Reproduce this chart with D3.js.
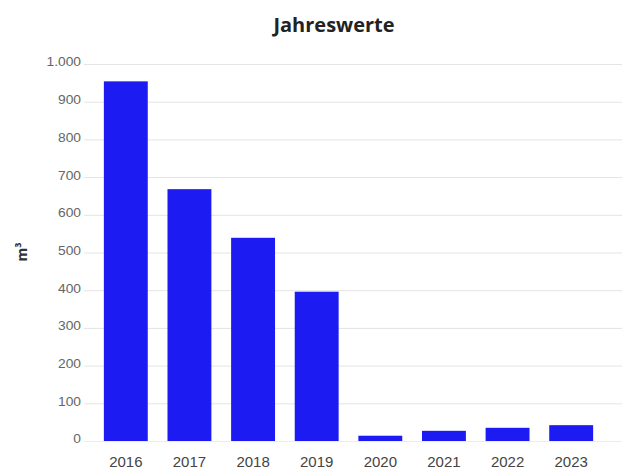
<!DOCTYPE html>
<html><head><meta charset="utf-8">
<script src="https://cdn.jsdelivr.net/npm/d3@7"></script>
<style>body{margin:0;background:#fff}svg{display:block}</style>
</head><body>
<script>
const years = ["2016","2017","2018","2019","2020","2021","2022","2023"];
const values = [954, 668, 539, 396, 14, 27, 35, 42];
const yTicks = [0,100,200,300,400,500,600,700,800,900,1000];

const W = 625, H = 470;
const svg = d3.select("body").append("svg").attr("width", W).attr("height", H);

const x = d3.scaleBand().domain(years).range([94, 603]).paddingInner(0.31).paddingOuter(0.155);
const y = d3.scaleLinear().domain([0, 1000]).range([441, 64]);
const fmt = v => d3.format(",")(v).replace(/,/g, ".");

// gridlines
svg.append("g").selectAll("line").data(yTicks.filter(d => d > 0)).join("line")
  .attr("x1", 84).attr("x2", 622)
  .attr("y1", d => y(d) + 0.5).attr("y2", d => y(d) + 0.5)
  .attr("stroke", "#e4e4e4").attr("stroke-width", 1);

// y axis
const yAxis = svg.append("g").attr("transform", "translate(81,0)")
  .call(d3.axisLeft(y).tickValues(yTicks).tickFormat(fmt).tickSize(0).tickPadding(0));
yAxis.select(".domain").remove();
yAxis.selectAll("text").attr("fill", "#666").attr("dy", "0.2em")
  .style("font-family", "Liberation Sans, Arial, sans-serif").style("font-size", "12px")
  .attr("transform", "scale(1.15,1)");
yAxis.selectAll(".tick").attr("transform", d => `translate(0,${y(d)})`);

// bars
svg.append("g").selectAll("rect").data(years).join("rect")
  .attr("x", d => x(d)).attr("width", x.bandwidth())
  .attr("y", (d, i) => y(values[i])).attr("height", (d, i) => y(0) - y(values[i]))
  .attr("fill", "#1c1cf2");

// baseline
svg.append("line").attr("x1", 84).attr("x2", 622).attr("y1", 441.5).attr("y2", 441.5)
  .attr("stroke", "#ececec");

// x axis
const xAxis = svg.append("g").attr("transform", "translate(0,441)")
  .call(d3.axisBottom(x).tickSize(0).tickPadding(0));
xAxis.select(".domain").remove();
xAxis.selectAll("text").attr("fill", "#444").attr("dy", null).attr("y", 26)
  .style("font-family", "Liberation Sans, Arial, sans-serif").style("font-size", "15px");

// title
svg.append("text").attr("x", 334).attr("y", 32).attr("text-anchor", "middle")
  .style("font-family", "Open Sans, sans-serif").style("font-weight", "bold").style("font-size", "20px")
  .attr("fill", "#222").text("Jahreswerte");

// y label
svg.append("text").attr("transform", "translate(27,252) rotate(-90)").attr("text-anchor", "middle")
  .style("font-family", "Open Sans, sans-serif").style("font-weight", "bold").style("font-size", "14px")
  .attr("fill", "#333").text("m³");
</script>
</body></html>
